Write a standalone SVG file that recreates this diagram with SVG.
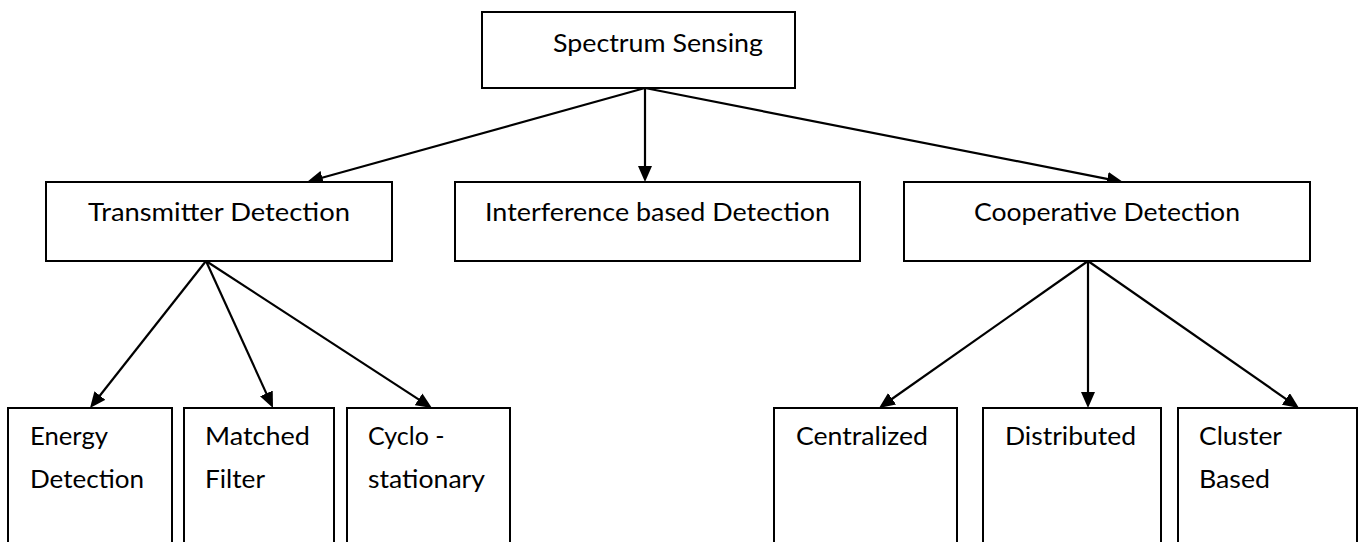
<svg xmlns="http://www.w3.org/2000/svg" width="1361" height="542" viewBox="0 0 1361 542">
<style>
.box{fill:#fff;stroke:#000;stroke-width:2}
.lbl{font-family:Lato,"Open Sans","Liberation Sans",sans-serif;font-size:25px;fill:#000}
.con{stroke:#000;stroke-width:2.2;fill:none;marker-end:url(#ah)}
</style>
<defs>
<marker id="ah" markerUnits="userSpaceOnUse" markerWidth="16" markerHeight="14" viewBox="0 0 16 14" refX="6" refY="7" orient="auto">
<path d="M0,0 L16,7 L0,14 z" fill="#000"/>
</marker>
</defs>
<rect width="1361" height="542" fill="#fff"/>
<g id="connectors">
<line class="con" x1="645" y1="88" x2="316.6" y2="179.3"/>
<line class="con" x1="645" y1="88" x2="645" y2="172"/>
<line class="con" x1="645" y1="88" x2="1113.2" y2="180.1"/>
<line class="con" x1="206" y1="261" x2="96.2" y2="400.2"/>
<line class="con" x1="206" y1="261" x2="268.85" y2="398.9"/>
<line class="con" x1="206" y1="261" x2="423.6" y2="402.55"/>
<line class="con" x1="1088" y1="261" x2="887.2" y2="402.25"/>
<line class="con" x1="1088" y1="261" x2="1088" y2="398"/>
<line class="con" x1="1088" y1="261" x2="1290.8" y2="402.3"/>
</g>
<g id="spectrum-sensing">
<rect class="box" x="482" y="12" width="313" height="76"/>
<text class="lbl" x="553" y="52" textLength="210" lengthAdjust="spacingAndGlyphs">Spectrum Sensing</text>
</g>
<g id="transmitter-detection">
<rect class="box" x="46" y="182" width="346" height="79"/>
<text class="lbl" x="88" y="221" textLength="262" lengthAdjust="spacingAndGlyphs">Transmitter Detection</text>
</g>
<g id="interference-detection">
<rect class="box" x="455" y="182" width="405" height="79"/>
<text class="lbl" x="485" y="221" textLength="345" lengthAdjust="spacingAndGlyphs">Interference based Detection</text>
</g>
<g id="cooperative-detection">
<rect class="box" x="904" y="182" width="406" height="79"/>
<text class="lbl" x="974" y="221" textLength="266" lengthAdjust="spacingAndGlyphs">Cooperative Detection</text>
</g>
<g id="energy-detection">
<rect class="box" x="8" y="408" width="164" height="160"/>
<text class="lbl" x="30" y="445" textLength="78" lengthAdjust="spacingAndGlyphs">Energy</text>
<text class="lbl" x="30" y="488" textLength="114" lengthAdjust="spacingAndGlyphs">Detection</text>
</g>
<g id="matched-filter">
<rect class="box" x="184" y="408" width="150" height="160"/>
<text class="lbl" x="205" y="445" textLength="105" lengthAdjust="spacingAndGlyphs">Matched</text>
<text class="lbl" x="205" y="488" textLength="60" lengthAdjust="spacingAndGlyphs">Filter</text>
</g>
<g id="cyclo-stationary">
<rect class="box" x="347" y="408" width="163" height="160"/>
<text class="lbl" x="368" y="445">Cyclo -</text>
<text class="lbl" x="368" y="488" textLength="117" lengthAdjust="spacingAndGlyphs">stationary</text>
</g>
<g id="centralized">
<rect class="box" x="774" y="408" width="183" height="160"/>
<text class="lbl" x="796" y="445" textLength="132" lengthAdjust="spacingAndGlyphs">Centralized</text>
</g>
<g id="distributed">
<rect class="box" x="983" y="408" width="178" height="160"/>
<text class="lbl" x="1005" y="445" textLength="131" lengthAdjust="spacingAndGlyphs">Distributed</text>
</g>
<g id="cluster-based">
<rect class="box" x="1178" y="408" width="179" height="160"/>
<text class="lbl" x="1199" y="445" textLength="83" lengthAdjust="spacingAndGlyphs">Cluster</text>
<text class="lbl" x="1199" y="488" textLength="71" lengthAdjust="spacingAndGlyphs">Based</text>
</g>
</svg>
